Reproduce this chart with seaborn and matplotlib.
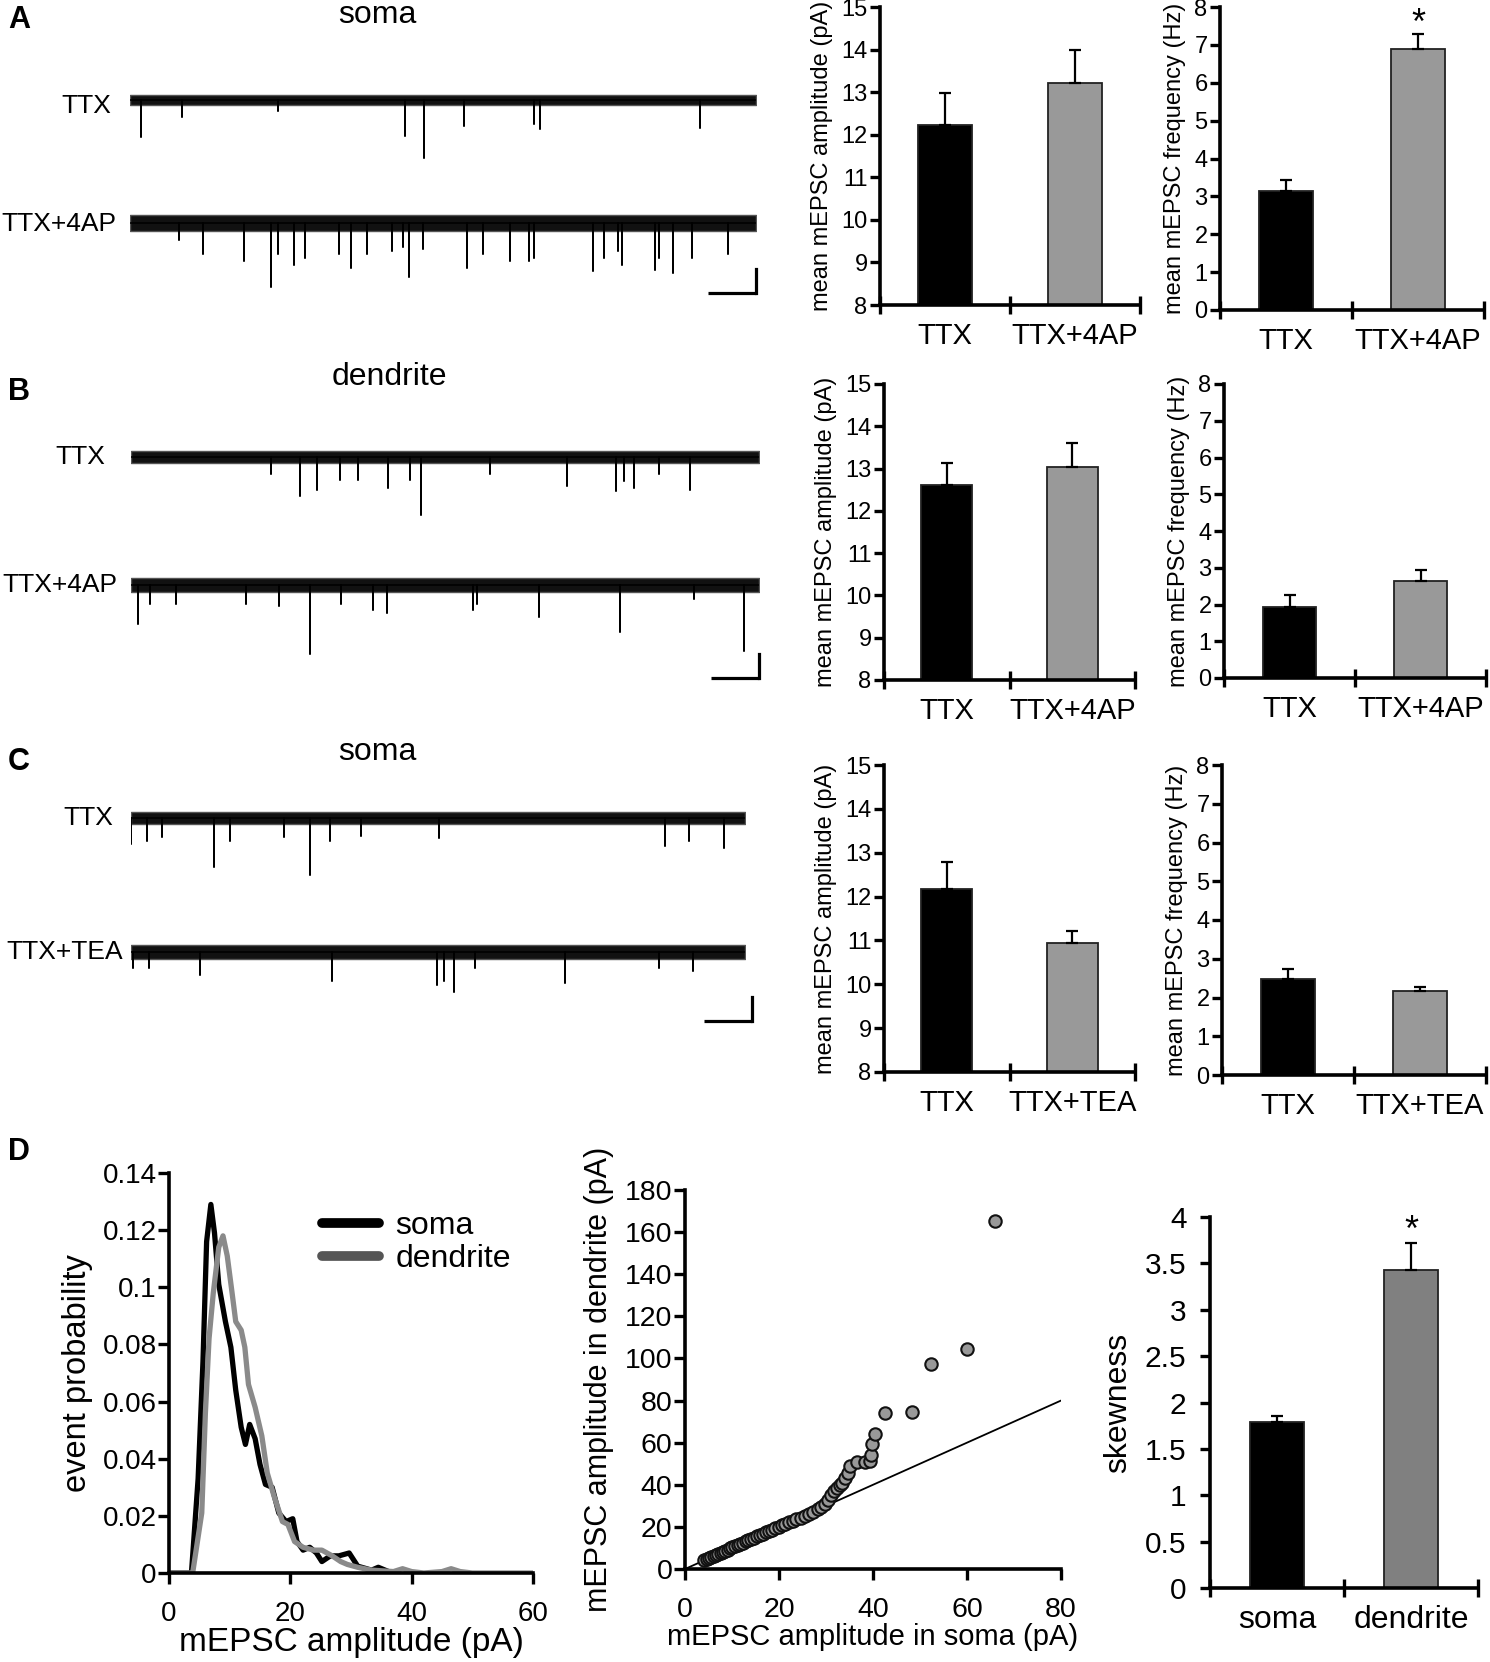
import matplotlib
matplotlib.use("Agg")
import matplotlib.pyplot as plt
import seaborn as sns
import pandas as pd
from matplotlib.lines import Line2D
from matplotlib.ticker import FormatStrFormatter

sns.set_style("ticks", {"axes.edgecolor": "black", "xtick.color": "black",
                        "ytick.color": "black", "text.color": "black",
                        "axes.labelcolor": "black"})
plt.rcParams["font.family"] = ["Liberation Sans", "DejaVu Sans"]

# ---------------- example recordings: mEPSC times (s) and amplitudes (pA) ----------------
a_ttx_t = [0.22, 1.08, 3.07, 5.71, 6.10, 6.94, 8.39, 8.51, 11.84]
a_ttx_amp = [15.6, 7.0, 4.5, 15.0, 24.0, 11.0, 10.0, 12.0, 11.5]
a_4ap_t = [1.01, 1.52, 2.36, 2.92, 3.07, 3.40, 3.64, 4.34, 4.58, 4.92, 5.45, 5.67, 5.79, 6.08,
           6.99, 7.33, 7.89, 8.29, 8.39, 9.62, 9.84, 10.13, 10.22, 10.90, 10.99, 11.28, 11.67, 12.42]
a_4ap_amp = [7.2, 13.0, 15.8, 26.6, 13.0, 17.3, 14.4, 13.0, 18.7, 13.0, 11.5, 10.0, 22.3, 10.8,
             18.7, 13.0, 15.8, 15.8, 14.4, 20.0, 14.4, 11.5, 17.3, 19.4, 14.4, 20.9, 14.4, 13.0]

b_ttx_t = [2.90, 3.50, 3.84, 4.32, 4.69, 5.31, 5.77, 6.01, 7.43, 9.03, 10.03, 10.20, 10.42, 10.93, 11.57]
b_ttx_amp = [6.9, 16.3, 13.7, 9.4, 9.4, 13.0, 9.4, 24.2, 6.9, 12.0, 14.1, 10.0, 13.0, 7.2, 13.7]
b_4ap_t = [0.15, 0.40, 0.93, 2.39, 3.07, 3.71, 4.35, 5.00, 5.30, 7.07, 7.17, 8.44, 10.13, 11.65, 12.69]
b_4ap_amp = [16.3, 7.9, 7.9, 7.9, 8.6, 28.8, 7.9, 10.5, 11.5, 10.5, 7.9, 13.4, 19.7, 5.8, 27.7]

c_ttx_t = [0.01, 0.33, 0.64, 1.72, 2.05, 3.16, 3.71, 4.11, 4.75, 6.37, 11.05, 11.55, 12.26]
c_ttx_amp = [11.0, 9.4, 8.0, 20.5, 9.6, 8.0, 23.8, 9.4, 7.5, 8.2, 11.8, 9.4, 12.5]
c_tea_t = [0.05, 0.38, 1.43, 4.15, 6.32, 6.48, 6.69, 7.12, 8.97, 10.93, 11.62]
c_tea_amp = [6.5, 6.8, 9.6, 12.2, 13.7, 12.2, 16.6, 6.5, 13.0, 6.5, 8.0]

# baseline noise (half peak-to-peak, pA) and sweep length (s)
noise_a = [1.9, 3.3]
noise_b = [2.3, 2.8]
noise_c = [2.7, 2.9]
sweep_len = [13.0, 13.0, 12.7]
scale_s, scale_pa = 1.0, 10.0

# ---------------- bar graph data (mean, sem) ----------------
groups_4ap = ["TTX", "TTX+4AP"]
groups_tea = ["TTX", "TTX+TEA"]
a_amp_mean, a_amp_sem = [12.22, 13.22], [0.76, 0.77]
a_freq_mean, a_freq_sem = [3.13, 6.88], [0.31, 0.40]
b_amp_mean, b_amp_sem = [12.61, 13.04], [0.53, 0.56]
b_freq_mean, b_freq_sem = [1.93, 2.63], [0.33, 0.31]
c_amp_mean, c_amp_sem = [12.18, 10.95], [0.60, 0.27]
c_freq_mean, c_freq_sem = [2.49, 2.16], [0.25, 0.12]

skew_groups = ["soma", "dendrite"]
skew_mean, skew_sem = [1.79, 3.43], [0.06, 0.29]

# ---------------- amplitude distributions ----------------
hist_amp_soma = [0, 3.7, 4.8, 5.6, 6.2, 6.9, 7.5, 8.2, 9.3, 10.2, 11.0, 11.9, 12.6, 13.3, 14.2,
                 15.0, 15.9, 17.0, 18.1, 19.3, 20.4, 21.1, 22.1, 23.2, 24.3, 25.2, 26.6, 28.0,
                 29.7, 31.1, 33.4, 34.5, 36.2, 37.6]
hist_p_soma = [0, 0, 0.033, 0.074, 0.116, 0.129, 0.119, 0.101, 0.088, 0.079, 0.064, 0.051, 0.045,
               0.052, 0.047, 0.038, 0.031, 0.030, 0.021, 0.018, 0.019, 0.011, 0.008, 0.009, 0.007,
               0.004, 0.006, 0.006, 0.007, 0.0024, 0.001, 0.002, 0.0005, 0]
hist_amp_dend = [0, 3.9, 5.4, 6.0, 6.6, 7.3, 8.2, 8.9, 9.6, 10.4, 11.0, 11.9, 12.5, 13.1, 14.2,
                 15.3, 16.2, 17.3, 18.7, 19.6, 20.7, 22.1, 23.8, 25.2, 26.9, 28.3, 29.4, 31.1,
                 33.4, 37.0, 38.5, 40.0, 42.0, 45.0, 46.5, 48.0, 50.0, 60.0]
hist_p_dend = [0, 0, 0.021, 0.056, 0.082, 0.098, 0.114, 0.118, 0.111, 0.098, 0.088, 0.085, 0.079,
               0.066, 0.058, 0.048, 0.035, 0.027, 0.018, 0.017, 0.011, 0.009, 0.008, 0.008, 0.006,
               0.004, 0.003, 0.002, 0.001, 0.0005, 0.0015, 0.0005, 0, 0.0005, 0.0015, 0.0005, 0, 0]

# quantile-quantile: soma vs dendrite amplitudes (pA)
qq_soma = [4.0, 4.6, 5.1, 5.6, 6.1, 6.6, 7.1, 7.6, 8.1, 8.6, 9.1, 9.6, 10.1, 10.7, 11.2, 11.8,
           12.3, 12.9, 13.5, 14.1, 14.7, 15.3, 15.9, 16.5, 17.2, 17.8, 18.5, 19.2, 19.9, 20.6,
           21.3, 22.1, 22.9, 23.7, 24.6, 25.5, 26.4, 27.3, 28.2, 29.0, 29.8, 30.5, 31.1, 31.7,
           32.3, 32.9, 33.4, 34.0, 34.6, 35.2, 36.5, 38.3, 39.4, 39.6, 39.7, 40.4, 42.6, 48.4,
           52.3, 60.1, 66.0]
qq_dend = [4.1, 4.6, 5.1, 5.7, 6.2, 6.7, 7.2, 7.7, 8.2, 8.7, 9.2, 9.8, 10.3, 10.9, 11.4, 12.0,
           12.5, 13.1, 13.7, 14.3, 14.9, 15.5, 16.1, 16.7, 17.4, 18.0, 18.7, 19.4, 20.1, 20.8,
           21.5, 22.2, 22.9, 23.6, 24.4, 25.2, 26.1, 27.0, 28.3, 29.6, 31.1, 33.0, 35.0, 37.0,
           38.6, 39.8, 41.0, 43.0, 45.5, 48.8, 50.9, 50.9, 51.5, 54.0, 59.6, 64.3, 74.2, 74.6,
           97.3, 104.3, 165.5]
unity = [0, 80]

# ---------------- layout helpers (pixel frame of the output) ----------------
W, H = 1490, 1662
PX_PER_PA = 2.4
fig = plt.figure(figsize=(W / 100, H / 100), dpi=100)


def px_axes(x0, y0, x1, y1):
    return fig.add_axes([x0 / W, 1 - y1 / H, (x1 - x0) / W, (y1 - y0) / H])


def ftext(x, y, s, **kw):
    fig.text(x / W, 1 - y / H, s, **kw)


def trace_panel(box, baselines, events, noise, dur, sb_right, sb_bottom):
    x0, y0, x1, y1 = box
    ax = px_axes(x0, y0, x1, y1)
    top = (baselines[0] - y0) / PX_PER_PA
    bottom = -(y1 - baselines[0]) / PX_PER_PA
    for yb, (times, amps), nz in zip(baselines, events, noise):
        off = -(yb - baselines[0]) / PX_PER_PA
        ax.fill_between([0, dur], off - nz, off + nz, facecolor="#111111", lw=1.0,
                        edgecolor="#555555")
        xs, ys = [0], [off]
        for t, a in zip(times, amps):
            xs += [t, t, t]
            ys += [off, off - a, off]
        xs.append(dur)
        ys.append(off)
        path = pd.DataFrame({"t": xs, "i": ys})
        sns.lineplot(data=path, x="t", y="i", sort=False, estimator=None,
                     color="black", lw=1.1, ax=ax)
    ysb = -(sb_bottom - baselines[0]) / PX_PER_PA
    ax.plot([sb_right - scale_s, sb_right], [ysb, ysb], color="black", lw=2.3,
            solid_capstyle="butt", clip_on=False)
    ax.plot([sb_right, sb_right], [ysb, ysb + scale_pa], color="black", lw=2.3,
            solid_capstyle="projecting", clip_on=False)
    ax.set_xlim(0, dur)
    ax.set_ylim(bottom, top)
    ax.axis("off")
    return ax


def bar_panel(box, groups, means, sems, ylim, yticks, ylabel, colors=("black", "#999999"),
              tick_fs=17, cat_fs=21, lab_fs=17, cat_pad=12, ypad=2, labelpad=6):
    ax = px_axes(*box)
    df = pd.DataFrame({"group": groups, "value": means})
    sns.barplot(data=df, x="group", y="value", hue="group", palette=list(colors),
                width=0.41, edgecolor="#222222", linewidth=1.3, legend=False, ax=ax)
    ax.errorbar(range(len(groups)), means, yerr=[[0] * len(sems), sems], fmt="none",
                ecolor="black", elinewidth=1.6, capsize=4.5, capthick=1.6, zorder=1)
    ax.set_xlim(-0.5, len(groups) - 0.5)
    ax.set_ylim(*ylim)
    ax.set_yticks(yticks)
    ax.yaxis.set_major_formatter(FormatStrFormatter("%g"))
    sns.despine(ax=ax)
    for s in ("left", "bottom"):
        ax.spines[s].set_linewidth(2.6)
    ax.tick_params(axis="y", direction="out", length=7, width=2.4, pad=ypad, labelsize=tick_fs)
    ax.set_xticks([-0.5, 0.5, 1.5], minor=True)
    ax.tick_params(axis="x", which="minor", direction="inout", length=13, width=2.4)
    ax.tick_params(axis="x", which="major", length=0, pad=cat_pad, labelsize=cat_fs)
    ax.set_xlabel("")
    ax.set_ylabel(ylabel, fontsize=lab_fs, labelpad=labelpad)
    return ax


# ---------------- panels A-C: traces ----------------
title_fs, trace_fs, letter_fs = 23, 19, 22

trace_panel((130, 55, 756, 305), [100, 223],
            [(a_ttx_t, a_ttx_amp), (a_4ap_t, a_4ap_amp)], noise_a, sweep_len[0], 13.0, 293)
trace_panel((131, 420, 759, 690), [457, 585],
            [(b_ttx_t, b_ttx_amp), (b_4ap_t, b_4ap_amp)], noise_b, sweep_len[1], 13.0, 678)
trace_panel((131, 780, 745, 1035), [818, 952],
            [(c_ttx_t, c_ttx_amp), (c_tea_t, c_tea_amp)], noise_c, sweep_len[2], 12.85, 1021)

ftext(8, 20, "A", fontsize=letter_fs, fontweight="bold", va="center")
ftext(8, 392, "B", fontsize=letter_fs, fontweight="bold", va="center")
ftext(8, 762, "C", fontsize=letter_fs, fontweight="bold", va="center")
ftext(8, 1152, "D", fontsize=letter_fs, fontweight="bold", va="center")

ftext(377, 15, "soma", fontsize=title_fs, ha="center", va="center")
ftext(389, 377, "dendrite", fontsize=title_fs, ha="center", va="center")
ftext(377, 752, "soma", fontsize=title_fs, ha="center", va="center")

ftext(111, 106, "TTX", fontsize=trace_fs, ha="right", va="center")
ftext(116, 224, "TTX+4AP", fontsize=trace_fs, ha="right", va="center")
ftext(105, 457, "TTX", fontsize=trace_fs, ha="right", va="center")
ftext(117, 585, "TTX+4AP", fontsize=trace_fs, ha="right", va="center")
ftext(113, 818, "TTX", fontsize=trace_fs, ha="right", va="center")
ftext(123, 952, "TTX+TEA", fontsize=trace_fs, ha="right", va="center")

# ---------------- panels A-C: bar graphs ----------------
amp_label = "mean mEPSC amplitude (pA)"
freq_label = "mean mEPSC frequency (Hz)"
amp_ticks = list(range(8, 16))
freq_ticks = list(range(0, 9))

bar_panel((880, 7, 1140, 305), groups_4ap, a_amp_mean, a_amp_sem, (8, 15), amp_ticks, amp_label)
ax_af = bar_panel((1220, 7, 1484, 310), groups_4ap, a_freq_mean, a_freq_sem, (0, 8), freq_ticks,
                  freq_label)
ax_af.text(1, a_freq_mean[1] + a_freq_sem[1] + 0.25, "*", ha="center", va="center", fontsize=26,
           clip_on=False)
bar_panel((884, 384, 1135, 680), groups_4ap, b_amp_mean, b_amp_sem, (8, 15), amp_ticks, amp_label)
bar_panel((1224, 384, 1486, 678), groups_4ap, b_freq_mean, b_freq_sem, (0, 8), freq_ticks,
          freq_label)
bar_panel((884, 765, 1135, 1072), groups_tea, c_amp_mean, c_amp_sem, (8, 15), amp_ticks, amp_label)
bar_panel((1222, 765, 1486, 1075), groups_tea, c_freq_mean, c_freq_sem, (0, 8), freq_ticks,
          freq_label)

# ---------------- panel D: amplitude distribution ----------------
ax_h = px_axes(169, 1173, 533, 1573)
sns.lineplot(x=hist_amp_soma, y=hist_p_soma, color="black", lw=3.8, estimator=None, sort=False,
             ax=ax_h)
sns.lineplot(x=hist_amp_dend, y=hist_p_dend, color="#8a8a8a", lw=3.8, estimator=None, sort=False,
             ax=ax_h)
ax_h.set_xlim(0, 60)
ax_h.set_ylim(0, 0.14)
ax_h.set_xticks([0, 20, 40, 60])
ax_h.set_yticks([0, 0.02, 0.04, 0.06, 0.08, 0.10, 0.12, 0.14])
ax_h.yaxis.set_major_formatter(FormatStrFormatter("%g"))
sns.despine(ax=ax_h)
for s in ("left", "bottom"):
    ax_h.spines[s].set_linewidth(2.6)
ax_h.tick_params(axis="both", direction="out", length=8, width=2.4, labelsize=20)
ax_h.tick_params(axis="x", pad=12)
ax_h.tick_params(axis="y", pad=1)
ax_h.set_xlabel("mEPSC amplitude (pA)", fontsize=24, labelpad=0)
ax_h.set_ylabel("event probability", fontsize=23.5, labelpad=7)
handles = [Line2D([], [], color="black", lw=7), Line2D([], [], color="#555555", lw=7)]
ax_h.legend(handles, ["soma", "dendrite"], loc="upper left", bbox_to_anchor=(0.42, 0.905),
            frameon=False, fontsize=23, handlelength=1.8, handletextpad=0.5,
            labelspacing=0.1, borderpad=0, borderaxespad=0)

# ---------------- panel D: soma vs dendrite quantiles ----------------
ax_s = px_axes(685, 1190, 1061, 1569)
sns.lineplot(x=unity, y=unity, color="black", lw=1.3, ax=ax_s)
sns.scatterplot(x=qq_soma, y=qq_dend, s=80, color="#999999", edgecolor="#111111", linewidth=1.5,
                clip_on=False, zorder=3, ax=ax_s)
ax_s.set_xlim(0, 80)
ax_s.set_ylim(0, 180)
ax_s.set_xticks(range(0, 81, 20))
ax_s.set_yticks(range(0, 181, 20))
sns.despine(ax=ax_s)
for s in ("left", "bottom"):
    ax_s.spines[s].set_linewidth(2.6)
ax_s.tick_params(axis="both", direction="out", length=8, width=2.4, labelsize=20.5)
ax_s.tick_params(axis="x", pad=12)
ax_s.tick_params(axis="y", pad=1)
ax_s.set_xlabel("mEPSC amplitude in soma (pA)", fontsize=21, labelpad=0)
ax_s.set_ylabel("mEPSC amplitude in dendrite (pA)", fontsize=22, labelpad=8)

# ---------------- panel D: skewness ----------------
ax_k = bar_panel((1210, 1217, 1478, 1588), skew_groups, skew_mean, skew_sem, (0, 4),
                 [0, 0.5, 1, 1.5, 2, 2.5, 3, 3.5, 4], "skewness", colors=("black", "#808080"),
                 tick_fs=21.5, cat_fs=23, lab_fs=23, cat_pad=12, ypad=10, labelpad=8)
ax_k.text(1, skew_mean[1] + skew_sem[1] + 0.12, "*", ha="center", va="center", fontsize=26,
          clip_on=False)

fig.savefig("out.png", dpi=100)
